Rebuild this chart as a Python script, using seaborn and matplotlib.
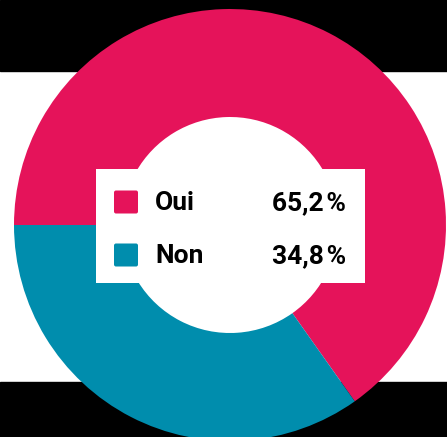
import matplotlib
matplotlib.use("Agg")
import matplotlib.pyplot as plt
from matplotlib.patches import Rectangle, FancyBboxPatch
import seaborn as sns

# données
labels = ["Oui", "Non"]
values = [65.2, 34.8]
value_labels = ["65,2\u200a%", "34,8\u200a%"]
colors = ["#E5135A", "#008DAD"]

sns.set_theme(style="white")
plt.rcParams["font.family"] = ["Roboto", "DejaVu Sans"]

W, H = 447, 437
fig = plt.figure(figsize=(W / 100, H / 100), dpi=100)
ax = fig.add_axes([0, 0, 1, 1])

# bandes noires haut / bas
ax.add_patch(Rectangle((0, H - 71), W, 71, color="black", zorder=0))
ax.add_patch(Rectangle((0, 0), W, H - 382, color="black", zorder=0))

# anneau
cx, cy, r = 230, H - 225, 216
ax.pie(values, colors=colors, startangle=180, counterclock=False,
       center=(cx, cy), radius=r, frame=True,
       wedgeprops=dict(width=108, linewidth=0))
ax.set_xlim(0, W)
ax.set_ylim(0, H)
ax.set_aspect("equal")
ax.axis("off")

# encadré légende
ax.add_patch(Rectangle((96, H - 283), 269, 114, facecolor="white",
                       edgecolor="none", zorder=3))
rows_y = [203, 256]
for lab, val, col, yy in zip(labels, value_labels, colors, rows_y):
    ax.add_patch(FancyBboxPatch((114, H - yy + 1 - 11.5), 24, 23,
                                boxstyle="round,pad=0,rounding_size=2",
                                facecolor=col, edgecolor="none", zorder=4))
    ax.text(155, H - yy, lab, fontsize=19, fontweight="bold",
            ha="left", va="center", color="black", zorder=5)
    ax.text(346, H - yy, val, fontsize=19, fontweight="bold",
            ha="right", va="center", color="black", zorder=5)

fig.savefig("out.png", dpi=100)
